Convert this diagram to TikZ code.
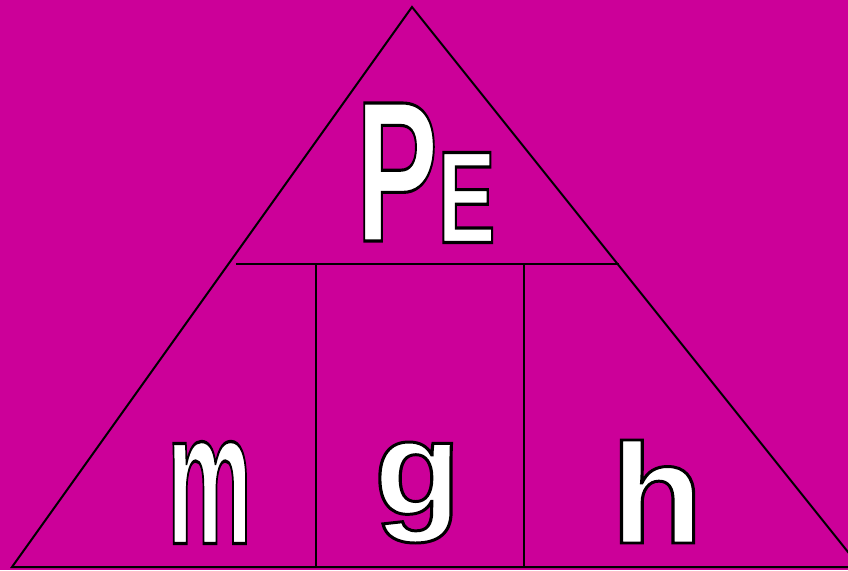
\documentclass[tikz,border=0pt]{standalone}
\usepackage{fontspec}
\setmainfont{Liberation Sans}
\usepackage{graphicx}
\definecolor{bgmag}{RGB}{204,0,153}
\newcommand\outlined[2]{\special{pdf:literal direct q 2 Tr #1 w 0 G 1 g}#2\special{pdf:literal direct Q}}
\begin{document}
\begin{tikzpicture}[x=1pt,y=-1pt,
  edge/.style={line width=2pt,black},
  letter/.style={inner sep=0pt,outer sep=0pt,text=white,font=\bfseries}]
\fill[bgmag] (0,0) rectangle (848,570);
\useasboundingbox (0,0) rectangle (848,570);
\begin{scope}
\clip (0,0) rectangle (848,570);
\coordinate (L) at (12,567);
\coordinate (A) at (412,7);
\coordinate (R) at (860,567);
\draw[edge,line join=miter] (L) -- (A) -- (R) -- cycle;
\coordinate (h1) at (236,264);
\coordinate (h2) at (619,264);
\draw[edge] (h1) -- (h2);
\coordinate (v1t) at (316,264);
\coordinate (v1b) at (316,567);
\coordinate (v2t) at (524,264);
\coordinate (v2b) at (524,567);
\draw[edge] (v1t) -- (v1b);
\draw[edge] (v2t) -- (v2b);
\end{scope}
\node[letter] (P) at (397,172) {\resizebox*{82pt}{138pt}{\fontsize{193}{193}\selectfont\outlined{3}{P}}};
\node[letter] (E) at (466.5,197.5) {\resizebox*{58pt}{90pt}{\fontsize{126}{126}\selectfont\outlined{3}{E}}};
\node[letter] (m) at (209.5,492.5) {\resizebox*{85pt}{102pt}{\fontsize{192}{192}\selectfont\outlined{3.4}{m}}};
\node[letter] (g) at (417.5,492.5) {\resizebox*{87pt}{101pt}{\fontsize{136}{136}\selectfont\outlined{3}{g}}};
\node[letter] (h) at (657,491.5) {\resizebox*{92pt}{103pt}{\fontsize{144}{144}\selectfont\outlined{3}{h}}};
\end{tikzpicture}
\end{document}
